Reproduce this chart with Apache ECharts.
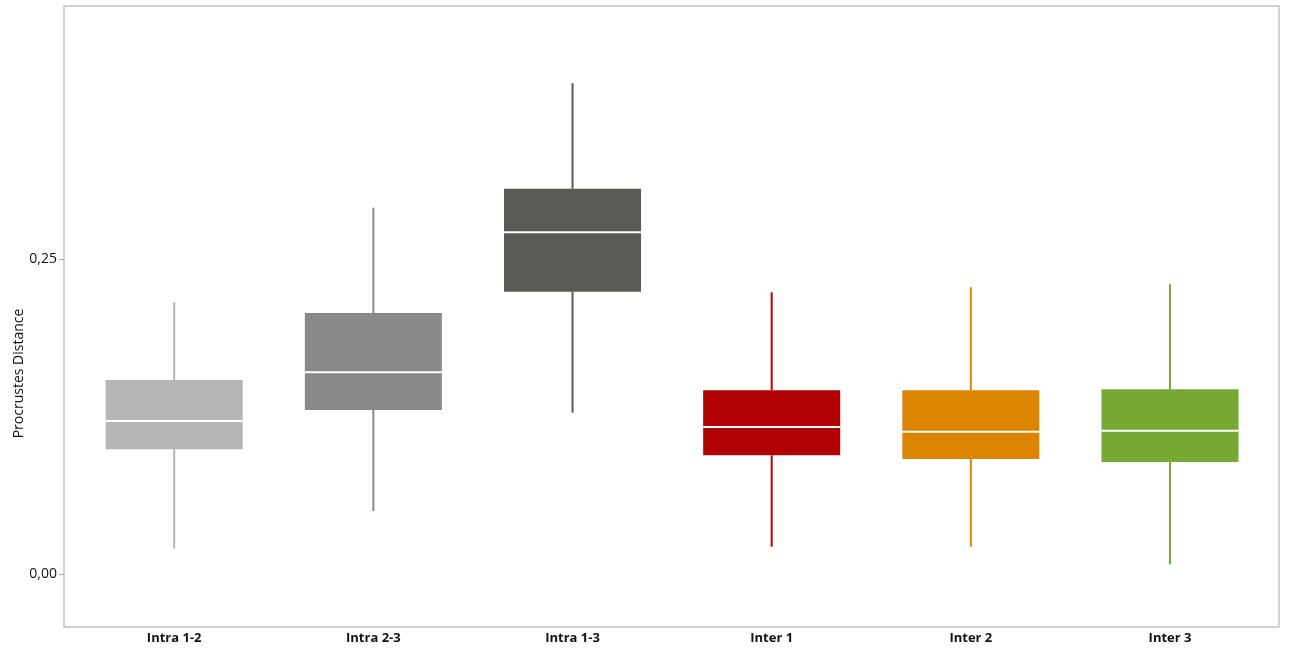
<!DOCTYPE html>
<html>
<head>
<meta charset="utf-8">
<title>Procrustes Distance</title>
<script src="https://cdn.jsdelivr.net/npm/echarts@6/dist/echarts.min.js"></script>
<style>
  html, body { margin: 0; padding: 0; background: #ffffff; }
  #chart { width: 1290px; height: 652px; }
</style>
</head>
<body>
<div id="chart"></div>
<script>
// Groups compared
const categories = ['Intra 1-2', 'Intra 2-3', 'Intra 1-3', 'Inter 1', 'Inter 2', 'Inter 3'];

// Five-number summaries per group
const whiskerLow  = [0.0205, 0.0502, 0.1283, 0.0219, 0.0219, 0.0079];
const quartile1   = [0.0993, 0.1304, 0.2243, 0.0944, 0.0915, 0.0891];
const medians     = [0.1216, 0.1603, 0.2714, 0.1169, 0.1132, 0.1140];
const quartile3   = [0.1542, 0.2074, 0.3060, 0.1460, 0.1460, 0.1468];
const whiskerHigh = [0.2159, 0.2910, 0.3897, 0.2238, 0.2278, 0.2302];

// Y axis range and labelled ticks
const yMin = -0.0418;
const yMax = 0.451;
const yTicks = [0, 0.25];

// One fill per group
const palette = ['#b5b6b3', '#8a8a88', '#5a5954', '#b00202', '#dc8500', '#77a834'];

const boxData = categories.map((c, i) => [i, whiskerLow[i], quartile1[i], medians[i], quartile3[i], whiskerHigh[i]]);

const chart = echarts.init(document.getElementById('chart'), null, { renderer: 'canvas' });

const labelFont = '"Open Sans", "Noto Sans", "DejaVu Sans", sans-serif';

chart.setOption({
  backgroundColor: '#ffffff',
  animation: false,
  grid: [
    // data area
    { left: 74.6, right: 20.4, top: 6, bottom: 25, containLabel: false, outerBoundsMode: 'none' },
    // outer frame
    { left: 64, right: 11, top: 6, bottom: 25, show: true, borderColor: '#c4c4c4', borderWidth: 1.5, backgroundColor: 'transparent', outerBoundsMode: 'none' }
  ],
  xAxis: [
    {
      type: 'category',
      gridIndex: 0,
      data: categories,
      boundaryGap: true,
      axisLine: { show: false },
      axisTick: { show: false },
      splitLine: { show: false },
      axisLabel: {
        color: '#111111',
        fontFamily: labelFont,
        fontSize: 13,
        fontWeight: 'bold',
        margin: 5
      }
    },
    { type: 'value', gridIndex: 1, show: false, min: 0, max: 1 }
  ],
  yAxis: [
    {
      type: 'value',
      gridIndex: 0,
      min: yMin,
      max: yMax,
      offset: 10.6,
      name: 'Procrustes Distance',
      nameLocation: 'middle',
      nameGap: 38,
      nameRotate: 90,
      nameMoveOverlap: false,
      nameTextStyle: {
        color: '#111111',
        fontFamily: labelFont,
        fontSize: 14,
        padding: [0, 114, 0, 0]
      },
      axisLine: { show: false },
      splitLine: { show: false },
      axisTick: {
        show: true,
        length: 5,
        customValues: yTicks,
        lineStyle: { color: '#aaaaaa', width: 1 }
      },
      axisLabel: {
        color: '#111111',
        fontFamily: labelFont,
        fontSize: 14,
        margin: 7,
        customValues: yTicks,
        formatter: v => v.toFixed(2).replace('.', ',')
      }
    },
    { type: 'value', gridIndex: 1, show: false, min: 0, max: 1 }
  ],
  series: [
    {
      type: 'custom',
      xAxisIndex: 0,
      yAxisIndex: 0,
      data: boxData,
      encode: { x: 0, y: [1, 2, 3, 4, 5] },
      renderItem: function (params, api) {
        const idx = api.value(0);
        const color = palette[idx];
        const bandW = api.size([1, 0])[0];
        const boxW = bandW * 0.688;
        const pLow = api.coord([idx, api.value(1)]);
        const pQ1 = api.coord([idx, api.value(2)]);
        const pMed = api.coord([idx, api.value(3)]);
        const pQ3 = api.coord([idx, api.value(4)]);
        const pHigh = api.coord([idx, api.value(5)]);
        const cx = pMed[0];
        const left = cx - boxW / 2;
        return {
          type: 'group',
          children: [
            {
              type: 'line',
              shape: { x1: cx, y1: pHigh[1], x2: cx, y2: pQ3[1] },
              style: { stroke: color, lineWidth: 2 }
            },
            {
              type: 'line',
              shape: { x1: cx, y1: pQ1[1], x2: cx, y2: pLow[1] },
              style: { stroke: color, lineWidth: 2 }
            },
            {
              type: 'rect',
              shape: { x: left, y: pQ3[1], width: boxW, height: pQ1[1] - pQ3[1] },
              style: { fill: color }
            },
            {
              type: 'line',
              shape: { x1: left, y1: pMed[1], x2: left + boxW, y2: pMed[1] },
              style: { stroke: '#ffffff', lineWidth: 2 }
            }
          ]
        };
      }
    }
  ]
});
</script>
</body>
</html>
